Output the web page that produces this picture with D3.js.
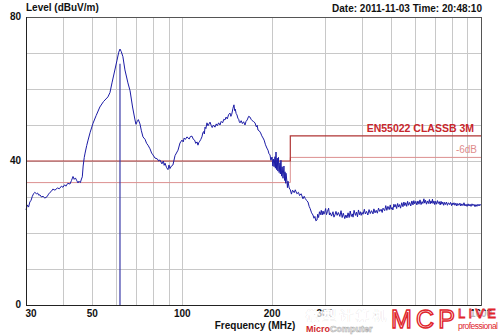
<!DOCTYPE html>
<meta charset="utf-8">
<script src="https://d3js.org/d3.v7.min.js"></script>
<style>
  body { margin: 0; background: #fff; }
  text { font-family: "Liberation Sans", Arial, sans-serif; }
</style>
<div id="my_dataviz"></div>
<script>

// trace: [frequency (MHz), level (dBuV/m)]
var trace = [
  [30,26.4],[30.3,27.8],[30.6,27.2],[30.9,28.6],[31.2,29.1],[31.5,30.2],[31.8,30.9],[32.1,31.3],[32.5,30.9],[32.8,31.1],
  [33.1,30.5],[33.4,30.6],[33.8,30.0],[34.2,30.2],[34.7,29.7],[35.3,30.1],[35.7,30.8],[36.1,31.3],[36.5,31.6],[36.9,32.2],
  [37.5,31.9],[38.2,32.5],[38.8,32.3],[39.4,33.0],[39.9,32.7],[40.4,33.4],[40.8,33.0],[41.4,33.8],[42.1,33.6],[42.6,34.6],
  [43.1,35.7],[43.5,34.9],[43.9,35.3],[44.4,34.5],[44.8,33.9],[45.1,34.4],[45.6,34.0],[46.0,35.0],[46.3,35.6],[46.6,38.6],
  [47.0,41.0],[47.3,42.2],[47.9,44.3],[48.4,45.8],[49.2,48.0],[50.3,50.5],[51.5,52.6],[53.0,55.0],[54.5,56.5],[56.4,57.8],
  [57.3,59.0],[58.2,61.7],[59.4,65.0],[60.5,68.0],[61.3,70.2],[61.9,71.1],[62.5,70.4],[63.3,69.0],[64.3,65.3],[65.8,61.7],
  [66.9,59.5],[68.2,55.0],[69.5,51.4],[70.0,50.2],[70.6,50.9],[71.3,51.5],[72.2,50.3],[73.0,48.4],[73.9,46.7],[75.1,46.0],
  [76.0,44.9],[76.8,44.4],[78.0,43.4],[79.0,42.2],[79.8,41.7],[81.1,40.8],[82.5,40.6],[83.4,40.0],[84.2,40.3],[85.5,39.2],
  [86.5,40.0],[87.0,38.8],[87.6,39.4],[88.6,38.2],[89.6,37.6],[90.3,38.9],[91.0,37.9],[92.0,38.6],[93.1,38.9],[94.6,41.5],
  [96.8,43.0],[98.3,45.0],[99.8,45.8],[100.8,45.3],[101.5,46.4],[102.5,46.0],[103.7,46.7],[105.5,46.1],[106.5,46.8],[107.8,46.9],
  [109,46.0],[110.0,45.8],[111,44.9],[112.1,45.3],[112.9,44.4],[113.6,45.1],[114.5,45.5],[115.4,46.0],[116.4,46.7],[117.2,47.8],
  [118,48.2],[118.6,47.5],[119.2,49.4],[120,49.0],[121,50.6],[122,49.8],[123.9,50.8],[125,49.9],[126,49.3],[127.2,50.0],
  [128.7,49.4],[130,50.3],[131,49.8],[132.4,50.6],[133.8,50.0],[135,51.0],[136.5,50.6],[137.8,51.6],[139.0,51.4],[140.2,52.2],
  [141.5,51.7],[143,52.9],[144.5,53.3],[145.5,52.4],[146.5,53.0],[147.8,54.6],[149.0,55.6],[149.8,54.0],[150.5,54.4],[151.5,53.2],
  [152.5,52.8],[153.5,51.9],[154.5,51.6],[155.3,50.9],[156.1,50.6],[157.5,51.2],[159,50.4],[160.5,50.9],[162.2,50.0],[163.5,51.0],
  [165,51.4],[166.8,52.4],[168.6,52.2],[170,51.6],[171,51.3],[173,51.0],[175.2,50.6],[176.2,50.0],[177,49.5],[178.2,49.9],
  [179.3,48.6],[181,48.4],[183,47.8],[184.6,47.0],[186.4,46.4],[188,45.8],[190,44.5],[192,43.6],[193.7,43.0],[195.2,42.0],
  [196.7,41.7],[198,40.2],[199.8,41.1],[201,38.6],[202,40.5],[203,38.4],[204.4,41.2],[205,38.0],[206,42.5],[207,37.6],
  [208,40.8],[209,37.2],[210,41.0],[211,36.8],[212.4,39.5],[213,36.4],[214,40.2],[215,35.8],[216,38.4],[217.4,35.2],
  [219,38.6],[220,34.6],[220.8,37.0],[222,33.8],[222.5,36.6],[224.2,34.2],[225,32.6],[225.9,34.4],[228,32.5],[230,32.0],
  [232,30.8],[234,31.9],[237,31.2],[239,32.0],[242,30.9],[245,31.3],[247,30.4],[250,30.9],[253.6,29.5],[256,30.2],
  [258,29.6],[261,29.0],[263.6,28.6],[266,27.4],[268,26.8],[271,25.6],[273.9,25.0],[276,24.1],[278,24.6],[280,23.4],
  [282.5,23.6],[284,25.2],[286,24.3],[288,25.9],[290,25.1],[292,26.3],[294,25.0],[296,26.1],[298,25.2],[300,25.8],
  [302,26.8],[304,25.1],[306,25.9],[309,26.9],[311,25.0],[313,25.6],[316,24.7],[319.6,25.9],[322,24.4],[325,25.2],
  [327,26.0],[330,24.9],[333,25.7],[337,24.6],[340,26.2],[343,24.3],[346,25.5],[350,24.0],[353,25.0],[356,24.2],
  [359,25.6],[362,24.3],[365,26.1],[368,24.6],[371,25.3],[373,24.4],[376,26.3],[380,24.9],[383,25.8],[386,24.5],
  [389,26.4],[392,25.1],[395,25.9],[397,24.9],[400,25.7],[403,25.2],[407,26.6],[410,25.3],[414,26.0],[418,25.0],
  [422,26.5],[426,25.4],[430,26.2],[435,25.3],[438,26.7],[442,25.6],[446,26.3],[450,25.5],[454,26.9],[458,26.0],
  [463,26.6],[467,25.7],[470,26.9],[476,26.2],[480,27.6],[484,26.3],[488,27.4],[493,26.5],[497,27.8],[500,26.6],
  [504,27.1],[507,26.4],[511,28.0],[515,27.2],[518,27.9],[522,26.8],[526,28.2],[530,27.2],[534,27.9],[538,26.9],
  [543,28.4],[548,27.3],[552,28.6],[556,27.6],[560,28.4],[564,27.4],[568,28.8],[572,27.7],[577,28.5],[582,27.5],
  [587,28.9],[592,27.8],[596,29.0],[600,28.1],[605,28.8],[610,27.8],[615,28.9],[620,28.0],[625,29.2],[630,27.9],
  [635,28.7],[639,28.2],[644,29.5],[648,28.3],[652,29.1],[657,28.0],[662,28.9],[667,28.2],[672,29.3],[676,28.1],
  [680,28.9],[684,28.3],[688,29.4],[691,28.2],[696,28.9],[700,27.9],[705,28.8],[710,28.0],[715,29.0],[720,28.2],
  [725,28.7],[730,27.8],[735,28.8],[740,28.0],[745,28.6],[750,27.7],[755,28.5],[760,27.9],[766,28.6],[772,27.7],
  [778,28.4],[785,27.9],[791,28.5],[797,27.6],[801,28.3],[805,27.8],[812,28.4],[818,27.7],[824,28.3],[830,27.5],
  [836,28.2],[843,27.7],[850,28.3],[856,27.5],[863,28.1],[870,27.6],[877,28.4],[884,27.5],[891,28.0],[898,27.4],
  [905,28.1],[912,27.5],[919,28.0],[926,27.4],[933,28.1],[940,27.6],[947,28.0],[955,27.3],[962,27.9],[969,27.4],
  [977,28.0],[985,27.5],[992,28.0],[1000,27.6]
];

// EN55022 class B 3m limit and the -6dB margin line
var limitFreq = [30, 230, 230, 1000];
var limitLevel = [40, 40, 47, 47];
var marginLevel = [34, 34, 41, 41];

// marker at the peak
var markerFreq = 61.9;
var markerTop = 67;

var xGrid = [40, 50, 60, 70, 80, 90, 100, 200, 300, 400, 500, 600, 700, 800, 900];
var xTickLabels = [30, 50, 100, 200, 300, 1000];
var yGrid = [10, 20, 30, 40, 50, 60, 70];
var yTickLabels = [0, 40, 80];

var margin = {top: 17, right: 19, bottom: 30, left: 26},
    width = 500 - margin.left - margin.right,
    height = 335 - margin.top - margin.bottom;

var svg = d3.select("#my_dataviz")
  .append("svg")
    .attr("width", width + margin.left + margin.right)
    .attr("height", height + margin.top + margin.bottom)
  .append("g")
    .attr("transform", "translate(" + margin.left + "," + margin.top + ")");

var x = d3.scaleLog()
  .domain([30, 1000])
  .range([0, width]);

var y = d3.scaleLinear()
  .domain([0, 80])
  .range([height, 0]);

// grid
svg.append("g")
  .selectAll("line")
  .data(xGrid)
  .enter()
  .append("line")
    .attr("x1", d => Math.round(x(d)) + 0.5)
    .attr("x2", d => Math.round(x(d)) + 0.5)
    .attr("y1", 0)
    .attr("y2", height)
    .attr("stroke", "#c8c8c8");

svg.append("g")
  .selectAll("line")
  .data(yGrid)
  .enter()
  .append("line")
    .attr("x1", 0)
    .attr("x2", width)
    .attr("y1", d => Math.round(y(d)) + 0.5)
    .attr("y2", d => Math.round(y(d)) + 0.5)
    .attr("stroke", "#c8c8c8");

// limit lines
var stepLine = d3.line()
  .x((d, i) => x(limitFreq[i]))
  .y(d => y(d));

svg.append("path")
  .datum(marginLevel)
  .attr("d", stepLine)
  .attr("fill", "none")
  .attr("stroke", "#dc9090")
  .attr("stroke-width", 1);

svg.append("path")
  .datum(limitLevel)
  .attr("d", stepLine)
  .attr("fill", "none")
  .attr("stroke", "#b03434")
  .attr("stroke-width", 1.2);

svg.append("text")
  .attr("x", width - 7)
  .attr("y", y(47) - 4)
  .attr("text-anchor", "end")
  .attr("font-size", "10.5px")
  .attr("font-weight", "bold")
  .attr("fill", "#c8262c")
  .text("EN55022 CLASSB 3M");

svg.append("text")
  .attr("x", width - 4)
  .attr("y", y(41) - 4)
  .attr("text-anchor", "end")
  .attr("font-size", "10px")
  .attr("fill", "#e08c8c")
  .text("-6dB");

// marker line
svg.append("line")
  .attr("x1", x(markerFreq))
  .attr("x2", x(markerFreq))
  .attr("y1", y(markerTop))
  .attr("y2", height)
  .attr("stroke", "#3a3aa8")
  .attr("stroke-width", 1.2);

// trace
svg.append("path")
  .datum(trace)
  .attr("d", d3.line()
    .x(d => x(d[0]))
    .y(d => y(d[1])))
  .attr("fill", "none")
  .attr("stroke", "#1c1ca6")
  .attr("stroke-width", 1);

// frame
svg.append("rect")
  .attr("x", 0.5)
  .attr("y", 0.5)
  .attr("width", width)
  .attr("height", height)
  .attr("fill", "none")
  .attr("stroke", "#555")
  .attr("stroke-width", 1);

svg.append("line")
  .attr("x1", 0.5).attr("x2", 0.5)
  .attr("y1", 0).attr("y2", height)
  .attr("stroke", "#222");
svg.append("line")
  .attr("x1", 0).attr("x2", width)
  .attr("y1", height + 0.5).attr("y2", height + 0.5)
  .attr("stroke", "#222");

// tick labels
svg.append("g")
  .selectAll("text")
  .data(xTickLabels)
  .enter()
  .append("text")
    .attr("x", d => x(d) + (d == 30 ? 5 : 0))
    .attr("y", height + 12)
    .attr("text-anchor", "middle")
    .attr("font-size", "10px")
    .attr("font-weight", "bold")
    .attr("fill", "#111")
    .text(d => d);

svg.append("g")
  .selectAll("text")
  .data(yTickLabels)
  .enter()
  .append("text")
    .attr("x", -5)
    .attr("y", d => y(d) + 3)
    .attr("text-anchor", "end")
    .attr("font-size", "10px")
    .attr("font-weight", "bold")
    .attr("fill", "#111")
    .text(d => d);

// titles
svg.append("text")
  .attr("x", 0)
  .attr("y", -6)
  .attr("font-size", "10px")
  .attr("font-weight", "bold")
  .attr("fill", "#111")
  .text("Level (dBuV/m)");

svg.append("text")
  .attr("x", width + 1)
  .attr("y", -5)
  .attr("text-anchor", "end")
  .attr("font-size", "10px")
  .attr("font-weight", "bold")
  .attr("fill", "#111")
  .text("Date: 2011-11-03  Time: 20:48:10");

svg.append("text")
  .attr("x", 229)
  .attr("y", height + 24)
  .attr("text-anchor", "middle")
  .attr("font-size", "10px")
  .attr("font-weight", "bold")
  .attr("fill", "#111")
  .text("Frequency (MHz)");

// watermark
var wm = d3.select("svg").append("g");
wm.append("rect")
  .attr("x", 303).attr("y", 311).attr("width", 197).attr("height", 24)
  .attr("fill", "#fff").attr("opacity", 0.7);
wm.append("text")
  .attr("x", 306).attr("y", 320)
  .attr("font-family", "Noto Sans CJK SC")
  .attr("font-size", "13px")
  .attr("font-weight", "bold")
  .attr("fill", "#9a9a9a")
  .attr("stroke", "#fff").attr("stroke-width", 0.5)
  .attr("textLength", 80)
  .text("微型计算机");
wm.append("text")
  .attr("x", 306).attr("y", 332)
  .attr("font-size", "9px")
  .attr("font-weight", "bold")
  .html('<tspan fill="#d0282c">Micro</tspan><tspan fill="#fff" stroke="#b0b0b0" stroke-width="0.6">Computer</tspan>');
wm.append("text")
  .attr("x", 391).attr("y", 328)
  .attr("font-size", "25px")
  .attr("fill", "#fff")
  .attr("stroke", "#e0242c")
  .attr("stroke-width", 1.4)
  .attr("textLength", 64)
  .text("MCP");
wm.append("text")
  .attr("x", 458).attr("y", 318)
  .attr("font-size", "13px")
  .attr("fill", "#fff")
  .attr("stroke", "#e0242c")
  .attr("stroke-width", 0.9)
  .attr("textLength", 38)
  .text("LIVE");
wm.append("text")
  .attr("x", 458).attr("y", 329)
  .attr("font-size", "8.5px")
  .attr("fill", "#e0242c")
  .attr("textLength", 40)
  .text("professional");

</script>
